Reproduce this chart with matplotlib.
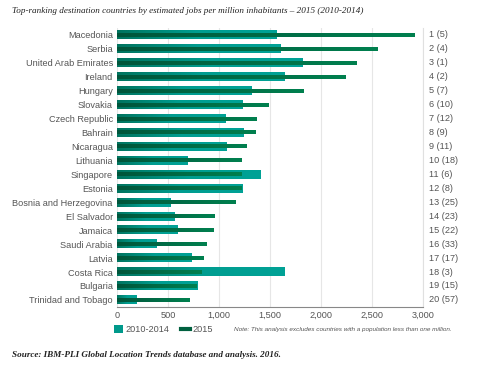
import numpy as np
import matplotlib.pyplot as plt
from matplotlib.patches import Patch
from matplotlib.lines import Line2D
from matplotlib.colors import LinearSegmentedColormap

plt.rcParams['font.family'] = ['Liberation Sans', 'DejaVu Sans']

countries = ['Macedonia', 'Serbia', 'United Arab Emirates', 'Ireland', 'Hungary',
             'Slovakia', 'Czech Republic', 'Bahrain', 'Nicaragua', 'Lithuania',
             'Singapore', 'Estonia', 'Bosnia and Herzegovina', 'El Salvador', 'Jamaica',
             'Saudi Arabia', 'Latvia', 'Costa Rica', 'Bulgaria', 'Trinidad and Tobago']
jobs_2010_2014 = [1560, 1600, 1815, 1640, 1315, 1235, 1060, 1245, 1070, 695,
                  1410, 1235, 525, 565, 590, 390, 735, 1645, 785, 195]
jobs_2015 = [2920, 2550, 2345, 2245, 1825, 1490, 1365, 1355, 1265, 1225,
             1225, 1225, 1165, 960, 950, 880, 845, 825, 775, 715]
ranks = ['1 (5)', '2 (4)', '3 (1)', '4 (2)', '5 (7)', '6 (10)', '7 (12)', '8 (9)',
         '9 (11)', '10 (18)', '11 (6)', '12 (8)', '13 (25)', '14 (23)', '15 (22)',
         '16 (33)', '17 (17)', '18 (3)', '19 (15)', '20 (57)']

teal_cm = LinearSegmentedColormap.from_list('teal', ['#00745f', '#009d90', '#00a296'])
green_cm = LinearSegmentedColormap.from_list('green', ['#00553b', '#00804f'])
grad = np.linspace(0, 1, 256).reshape(1, -1)

fig = plt.figure(figsize=(4.86, 3.77), dpi=100)
ax = fig.add_axes([0.2407, 0.186, 0.6296, 0.74])

for i, (a, b) in enumerate(zip(jobs_2010_2014, jobs_2015)):
    ax.imshow(grad, cmap=teal_cm, aspect='auto', extent=[0, a, i + 0.31, i - 0.31],
              zorder=2, interpolation='bicubic')
    ax.imshow(grad, cmap=green_cm, aspect='auto', extent=[0, b, i + 0.14, i - 0.14],
              zorder=3, interpolation='bicubic')

ax.set_xlim(0, 3000)
ax.set_ylim(19.5, -0.5)
ax.set_yticks(range(len(countries)))
ax.set_yticklabels(countries)
ax.set_xticks(range(0, 3001, 500))
ax.set_xticklabels(['0', '500', '1,000', '1,500', '2,000', '2,500', '3,000'])
ax.tick_params(axis='both', length=0, labelsize=6.6, colors='#555555', pad=3)
ax.tick_params(axis='y', pad=3)
ax.grid(axis='x', color='#e6e6e6', linewidth=0.8, zorder=0)
for s in ['top', 'left']:
    ax.spines[s].set_visible(False)
ax.spines['right'].set_color('#e0e0e0')
ax.spines['bottom'].set_color('#888888')
ax.spines['bottom'].set_linewidth(0.8)

for i, r in enumerate(ranks):
    ax.text(1.02, i, r, transform=ax.get_yaxis_transform(), va='center', ha='left',
            fontsize=6.6, color='#555555')

handles = [Patch(facecolor='#00998b', edgecolor='none'),
           Line2D([0], [0], color='#00603f', linewidth=3)]
fig.legend(handles, ['2010-2014', '2015'], loc='center left',
           bbox_to_anchor=(0.218, 0.125), ncol=2, frameon=False, fontsize=6.6,
           handlelength=0.95, handleheight=1.0, columnspacing=1.3, handletextpad=0.25,
           labelcolor='#555555')
fig.text(0.482, 0.125, 'Note: This analysis excludes countries with a population less than one million.',
         fontsize=4.6, style='italic', color='#555555', va='center')

fig.text(0.025, 0.972, 'Top-ranking destination countries by estimated jobs per million inhabitants – 2015 (2010-2014)',
         family='Liberation Serif', style='italic', fontsize=6.6, color='#222222', va='center')
fig.text(0.025, 0.058, 'Source: IBM-PLI Global Location Trends database and analysis. 2016.',
         family='Liberation Serif', style='italic', fontweight='bold', fontsize=6.6,
         color='#222222', va='center')

fig.savefig('out.png', dpi=100)
